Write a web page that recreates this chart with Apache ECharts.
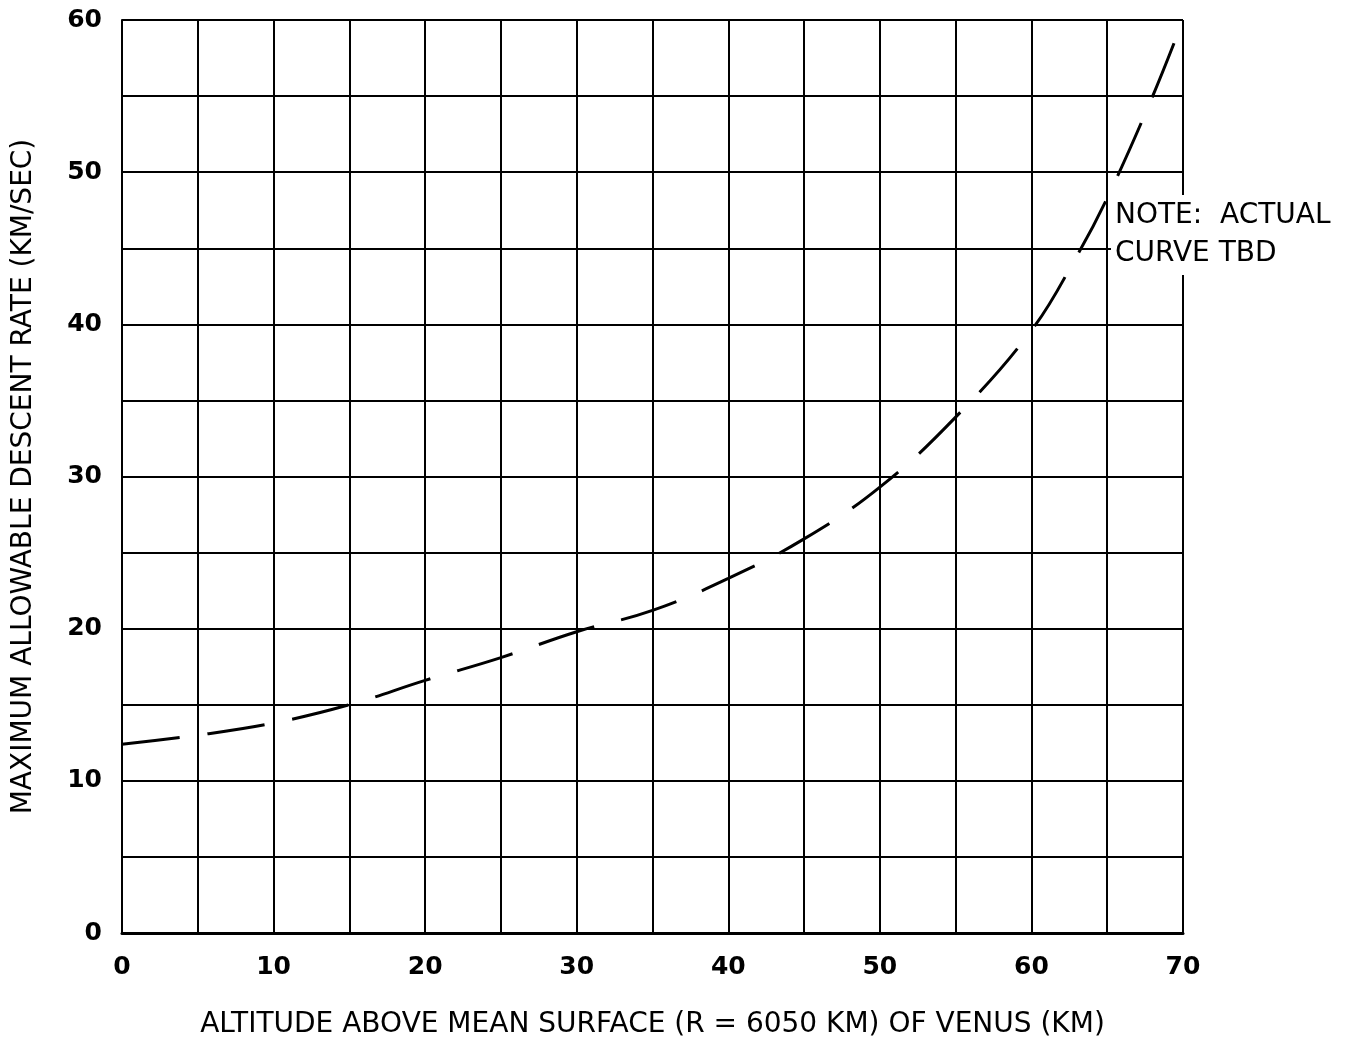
<!DOCTYPE html>
<html>
<head>
<meta charset="utf-8">
<script src="https://cdn.jsdelivr.net/npm/echarts@6/dist/echarts.min.js"></script>
<style>
  html, body { margin: 0; padding: 0; background: #fff; }
  #chart { width: 1357px; height: 1042px; }
</style>
</head>
<body>
<div id="chart"></div>
<script>
// altitude (km) and max allowable descent rate (km/sec)
const altitude = [0, 5, 10, 15, 20, 25, 30, 35, 40, 45, 50, 55, 60, 63, 65, 68, 70]
const descentRate = [12.4, 13.0, 13.8, 15.0, 16.6, 18.1, 19.8, 21.2, 23.3, 25.9, 29.3, 33.9, 39.6, 44.5, 48.3, 55, 60]
const noteLines = ['NOTE:  ACTUAL', 'CURVE TBD']

const font = 'DejaVu Sans'
const chart = echarts.init(document.getElementById('chart'))

chart.setOption({
  backgroundColor: '#fff',
  animation: false,
  grid: { left: 122, right: 174, top: 20, bottom: 109, containLabel: false, outerBoundsMode: 'none' },
  xAxis: {
    type: 'value',
    min: 0,
    max: 70,
    interval: 5,
    name: 'ALTITUDE ABOVE MEAN SURFACE (R = 6050 KM) OF VENUS (KM)',
    nameLocation: 'middle',
    nameGap: 78,
    nameTextStyle: { color: '#000', fontSize: 28, fontFamily: font },
    axisLine: { show: true, lineStyle: { color: '#000', width: 3 } },
    axisTick: { show: false },
    axisLabel: {
      color: '#000',
      fontSize: 25,
      fontWeight: 'bold',
      fontFamily: font,
      margin: 22,
      formatter: v => (v % 10 === 0 ? String(v) : '')
    },
    splitLine: { show: true, lineStyle: { color: '#000', width: 2 } }
  },
  yAxis: {
    type: 'value',
    min: 0,
    max: 60,
    interval: 5,
    name: 'MAXIMUM ALLOWABLE DESCENT RATE (KM/SEC)',
    nameLocation: 'middle',
    nameGap: 84,
    nameTextStyle: { color: '#000', fontSize: 28, fontFamily: font },
    axisLine: { show: true, lineStyle: { color: '#000', width: 2 } },
    axisTick: { show: false },
    axisLabel: {
      color: '#000',
      fontSize: 25,
      fontWeight: 'bold',
      fontFamily: font,
      margin: 20,
      formatter: v => (v % 10 === 0 ? String(v) : '')
    },
    splitLine: { show: true, lineStyle: { color: '#000', width: 2 } }
  },
  series: [{
    type: 'line',
    smooth: 0.4,
    symbol: 'none',
    data: altitude.map((x, i) => [x, descentRate[i]]),
    lineStyle: { color: '#000', width: 3, type: [58, 28] },
    z: 5
  }],
  graphic: [{
    type: 'text',
    left: 1111,
    top: 195,
    z: 10,
    style: {
      text: noteLines.join('\n'),
      fill: '#000',
      font: '28px "DejaVu Sans"',
      lineHeight: 38,
      backgroundColor: '#fff',
      padding: [2, 4, 2, 4]
    }
  }]
})
</script>
</body>
</html>
